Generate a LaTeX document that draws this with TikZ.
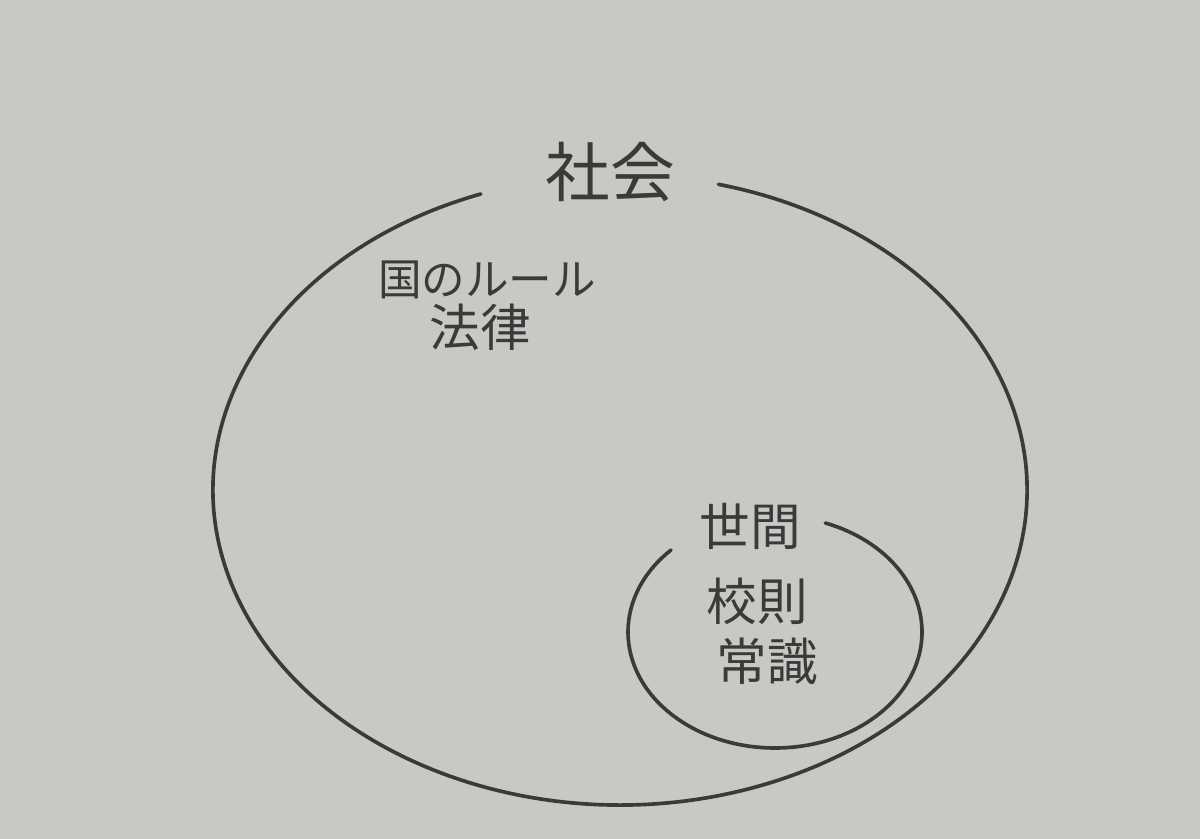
\documentclass[tikz,border=0pt]{standalone}
\usepackage{fontspec}
\newfontfamily\jpfont{Noto Sans CJK JP}
\definecolor{paper}{RGB}{201,200,196}
\definecolor{pencil}{RGB}{58,58,58}

\begin{document}
\begin{tikzpicture}[x=0.025cm,y=0.025cm,line width=2.6pt,line cap=round,
                    ring/.style={draw=pencil},
                    big label/.style={font=\jpfont\fontsize{46}{50}\selectfont,text=pencil,inner sep=0pt},
                    mid label/.style={font=\jpfont\fontsize{36}{40}\selectfont,text=pencil,inner sep=0pt},
                    small label/.style={font=\jpfont\fontsize{31}{35}\selectfont,text=pencil,inner sep=0pt}]
                    % paper
                    \fill[paper] (0,0) rectangle (1200,839);
                    \useasboundingbox (0,0) rectangle (1200,839);

                    % outer ring (society), open at the top
                    \draw[ring] ([shift={(110:407 and 315)}]620,349) arc[start angle=110,end angle=436,x radius=407,y radius=315];
                    % inner ring, open at the top left
                    \draw[ring] ([shift={(135:147 and 116)}]775,207) arc[start angle=135,end angle=430,x radius=147,y radius=116];

                    \node[big label] (society) at (610,667) {社会};
                    \node[small label] (rule) at (487,559) {国のルール};
                    \node[mid label] (law) at (480,512) {法律};

                    \node[mid label] (world) at (750,313) {世間};
                    \node[mid label] (school) at (757,238) {校則};
                    \node[mid label] (sense) at (767,178) {常識};
                \end{tikzpicture}
\end{document}
